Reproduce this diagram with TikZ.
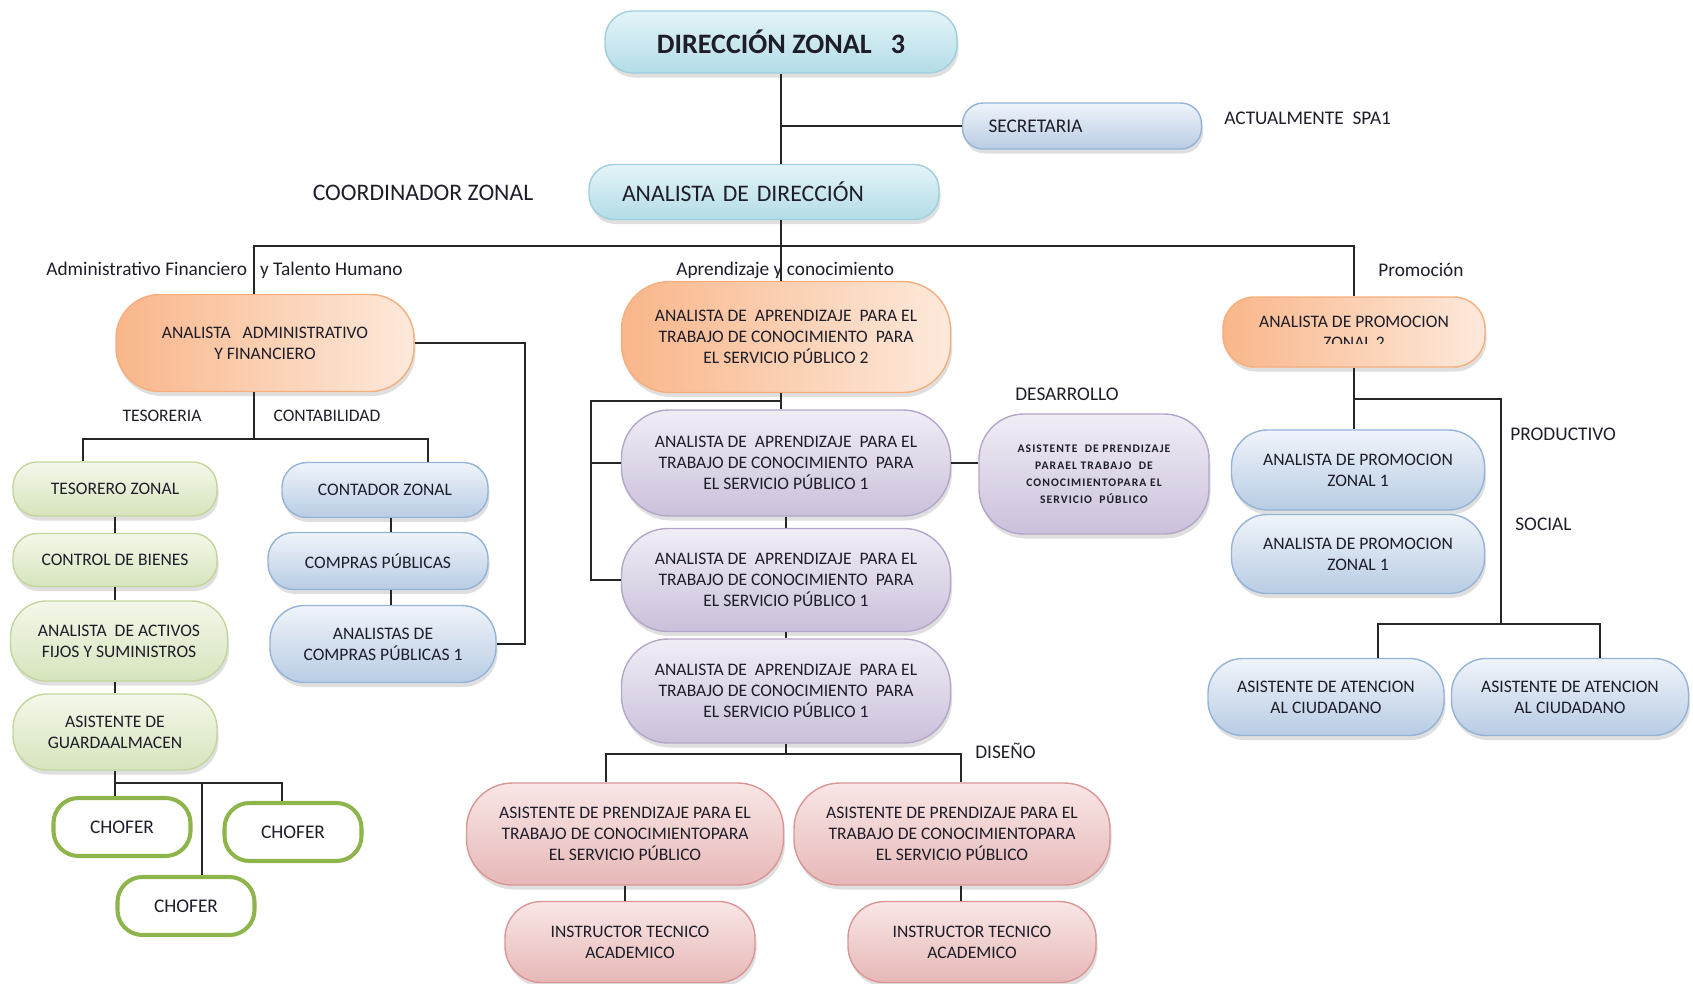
\documentclass[tikz,border=0pt]{standalone}
\usepackage{fontspec}
\setmainfont{Carlito}
\newfontfamily\spacedfont[LetterSpace=9]{Carlito}
\usetikzlibrary{shadows}
\definecolor{cyanT}{HTML}{E4F4F8}
\definecolor{cyanD}{HTML}{B3DCE7}
\definecolor{cyanB}{HTML}{9FCFDD}
\definecolor{blueT}{HTML}{F0F4FA}
\definecolor{blueD}{HTML}{B8CCE4}
\definecolor{blueB}{HTML}{95B3D7}
\definecolor{orgD}{HTML}{F9B68A}
\definecolor{orgL}{HTML}{FDE9DB}
\definecolor{orgB}{HTML}{F6AE7C}
\definecolor{grnT}{HTML}{F3F8EA}
\definecolor{grnD}{HTML}{D6E4BC}
\definecolor{grnB}{HTML}{C2D69B}
\definecolor{grnC}{HTML}{8DB54B}
\definecolor{purT}{HTML}{F1EDF6}
\definecolor{purD}{HTML}{CBC0DA}
\definecolor{purB}{HTML}{B5A6C9}
\definecolor{redT}{HTML}{F9E6E6}
\definecolor{redD}{HTML}{E6B8B7}
\definecolor{redB}{HTML}{D99694}
\definecolor{ink}{HTML}{1E1E2A}
\newcommand\aprtext[1]{ANALISTA DE\ \ APRENDIZAJE\ \ PARA EL\\TRABAJO DE CONOCIMIENTO\ \ PARA\\EL SERVICIO PÚBLICO #1}
\newcommand\asitext{ASISTENTE DE PRENDIZAJE PARA EL\\TRABAJO DE CONOCIMIENTOPARA\\EL SERVICIO PÚBLICO}

\begin{document}
\begin{tikzpicture}[
	x=0.2mm, y=-0.2mm,
	pill/.style 2 args={minimum width=#1*0.2mm, minimum height=#2*0.2mm,
		rounded corners={min(0.45*#2,48)*0.2mm}, inner sep=0pt, align=center,
		text=ink, font=\fontsize{10}{12}\selectfont, line width=0.8pt,
		drop shadow={shadow xshift=0.3mm, shadow yshift=-0.9mm, opacity=0.25}},
	cyanfill/.style={draw=cyanB, top color=cyanT, bottom color=cyanD},
	bluefill/.style={draw=blueB, top color=blueT, bottom color=blueD},
	orgfill/.style={draw=orgB, left color=orgD, right color=orgL},
	grnfill/.style={draw=grnB, top color=grnT, bottom color=grnD},
	purfill/.style={draw=purB, top color=purT, bottom color=purD},
	redfill/.style={draw=redB, top color=redT, bottom color=redD},
	chofer/.style={minimum width=137*0.2mm, minimum height=58*0.2mm,
		rounded corners=5mm, draw=grnC, line width=2.3pt, fill=white,
		text=ink, font=\fontsize{11}{13}\selectfont},
	link/.style={draw=black!85, line width=1pt},
	lbl/.style={text=ink, inner sep=0pt, font=\fontsize{11}{13}\selectfont}]
\useasboundingbox (0,0) rectangle (1693,984);

\node[pill={352}{62}, cyanfill, font=\bfseries\fontsize{16}{19}\selectfont] (dz) at (781,42) {DIRECCIÓN ZONAL\ \ \ 3};
\node[pill={239}{46}, bluefill, text width=37.4mm, align=left, font=\fontsize{11}{13}\selectfont] (sec) at (1082,126) {SECRETARIA};
\node[pill={350}{55}, cyanfill, text width=56.8mm, align=left, font=\fontsize{13.5}{16}\selectfont] (adir) at (764,192) {ANALISTA DE DIRECCIÓN};

\node[lbl, anchor=west] (spa) at (1224,118) {ACTUALMENTE\ \ SPA1};
\node[lbl, font=\fontsize{13.5}{16}\selectfont] (coord) at (423,193) {COORDINADOR ZONAL};
\node[lbl, anchor=west] (secAdm) at (46,270) {Administrativo Financiero\ \ \ y Talento Humano};
\node[lbl, anchor=west] (secApr) at (676,270) {Aprendizaje y conocimiento};
\node[lbl, anchor=west] (secProm) at (1378,270) {Promoción};
\node[lbl, font=\fontsize{10}{12}\selectfont] (lTes) at (162,416) {TESORERIA};
\node[lbl, font=\fontsize{10}{12}\selectfont] (lCon) at (327,416) {CONTABILIDAD};
\node[lbl, anchor=west] (lDes) at (1015,394) {DESARROLLO};
\node[lbl, anchor=west] (lDis) at (975,751) {DISEÑO};
\node[lbl, anchor=west] (lPro) at (1510,434) {PRODUCTIVO};
\node[lbl, anchor=west] (lSoc) at (1515,524) {SOCIAL};

\node[pill={298}{97}, orgfill] (aaf) at (265,343) {ANALISTA\ \ \ ADMINISTRATIVO\\Y FINANCIERO};
\node[pill={204}{54}, grnfill] (tes) at (115,489) {TESORERO ZONAL};
\node[pill={204}{53}, grnfill] (cbi) at (115,560) {CONTROL DE BIENES};
\node[pill={217}{80}, grnfill] (act) at (119,641) {ANALISTA\ \ DE ACTIVOS\\FIJOS Y SUMINISTROS};
\node[pill={204}{76}, grnfill] (gua) at (115,732) {ASISTENTE DE\\GUARDAALMACEN};
\node[chofer] (ch1) at (122,827) {CHOFER};
\node[chofer] (ch2) at (293,832) {CHOFER};
\node[chofer] (ch3) at (186,906) {CHOFER};
\node[pill={206}{55}, bluefill] (con) at (385,490) {CONTADOR ZONAL};
\node[pill={220}{57}, bluefill] (com) at (378,561) {COMPRAS PÚBLICAS};
\node[pill={226}{77}, bluefill] (acp) at (383,644) {ANALISTAS DE\\COMPRAS PÚBLICAS 1};

\node[pill={329}{111}, orgfill] (ap2) at (786,337) {\aprtext{2}};
\node[pill={329}{106}, purfill] (ap1a) at (786,463) {\aprtext{1}};
\node[pill={329}{103}, purfill] (ap1b) at (786,580) {\aprtext{1}};
\node[pill={329}{104}, purfill] (ap1c) at (786,691) {\aprtext{1}};
\node[pill={230}{120}, purfill, rounded corners=9mm, font=\spacedfont\bfseries\fontsize{6.6}{9.7}\selectfont] (asd) at (1094,474)
	{ASISTENTE\ \ DE PRENDIZAJE\\PARAEL TRABAJO\ \ DE\\CONOCIMIENTOPARA EL\\SERVICIO\ \ PÚBLICO};
\node[pill={317}{102}, redfill] (asp1) at (625,834) {\asitext};
\node[pill={316}{102}, redfill] (asp2) at (952,834) {\asitext};
\node[pill={250}{81}, redfill] (ins1) at (630,942) {INSTRUCTOR TECNICO\\ACADEMICO};
\node[pill={248}{81}, redfill] (ins2) at (972,942) {INSTRUCTOR TECNICO\\ACADEMICO};

\node[pill={262}{70}, orgfill, path picture={
	\clip (path picture bounding box.north west) rectangle ([yshift=-2.2mm]path picture bounding box.east);
	\node[text=ink, align=center, font=\fontsize{10}{12}\selectfont] at (path picture bounding box.center) {ANALISTA DE PROMOCION\\ZONAL 2};}] (pz2) at (1354,332) {};
\node[pill={253}{80}, bluefill] (pz1a) at (1358,470) {ANALISTA DE PROMOCION\\ZONAL 1};
\node[pill={253}{79}, bluefill] (pz1b) at (1358,554) {ANALISTA DE PROMOCION\\ZONAL 1};
\node[pill={236}{77}, bluefill] (aci1) at (1326,697) {ASISTENTE DE ATENCION\\AL CIUDADANO};
\node[pill={237}{77}, bluefill] (aci2) at (1570,697) {ASISTENTE DE ATENCION\\AL CIUDADANO};

\coordinate (bus) at (781,246);
\coordinate (busL) at (254,246);
\coordinate (busR) at (1354,246);
\coordinate (tsp) at (254,439);
\coordinate (tesL) at (83,439);
\coordinate (conR) at (428,439);
\coordinate (chM) at (202,783);
\coordinate (chR) at (282,783);
\coordinate (ccol) at (391,0);
\coordinate (rail) at (525,0);
\coordinate (apx) at (781,401);
\coordinate (brk) at (591,401);
\coordinate (dL) at (606,754);
\coordinate (dR) at (961,754);
\coordinate (pzr) at (1501,399);
\coordinate (socL) at (1378,624);
\coordinate (socR) at (1600,624);

\draw[link] (dz.south) -- (dz.south |- adir.north);
\draw[link] (sec.west) -- (sec.west -| dz.south);
\draw[link] (adir.south -| bus) -- (bus);
\draw[link] (busL |- aaf.north) -- (busL) -- (busR) -- (pz2.north);
\draw[link] (bus) -- (bus |- ap2.north);

\draw[link] (tsp |- aaf.south) -- (tsp);
\draw[link] (tesL |- tes.north) -- (tesL) -- (conR) -- (conR |- con.north);
\draw[link] (tes.south) -- (tes.south |- cbi.north) (cbi.south) -- (cbi.south |- act.north)
	(act.south -| cbi.south) -- (gua.north);
\draw[link] (gua.south) -- (gua.south |- chR) -- (chR) -- (chR |- ch2.north);
\draw[link] (gua.south |- chR) -- (gua.south |- ch1.north);
\draw[link] (chM) -- (chM |- ch3.north);
\draw[link] (ccol |- con.south) -- (ccol |- com.north) (ccol |- com.south) -- (ccol |- acp.north);
\draw[link] (aaf.east) -- (rail |- aaf.east) -- (rail |- acp.east) -- (acp.east);

\draw[link] (ap2.south -| apx) -- (apx) -- (brk) -- (brk |- ap1b.west) -- (ap1b.west);
\draw[link] (apx) -- (apx |- ap1a.north);
\draw[link] (brk |- ap1a.west) -- (ap1a.west);
\draw[link] (ap1a.east) -- (ap1a.east -| asd.west);
\draw[link] (ap1a.south) -- (ap1b.north) (ap1b.south) -- (ap1c.north);
\draw[link] (ap1c.south) -- (ap1c.south |- dL);
\draw[link] (dL |- asp1.north) -- (dL) -- (dR) -- (dR |- asp2.north);
\draw[link] (asp1.south) -- (asp1.south |- ins1.north);
\draw[link] (dR |- asp2.south) -- (dR |- ins2.north);

\draw[link] (pz2.south) -- (pz2.south |- pz1a.north);
\draw[link] (pz2.south |- pzr) -- (pzr) -- (pzr |- socL);
\draw[link] (socL |- aci1.north) -- (socL) -- (socR) -- (socR |- aci2.north);
\end{tikzpicture}
\end{document}
